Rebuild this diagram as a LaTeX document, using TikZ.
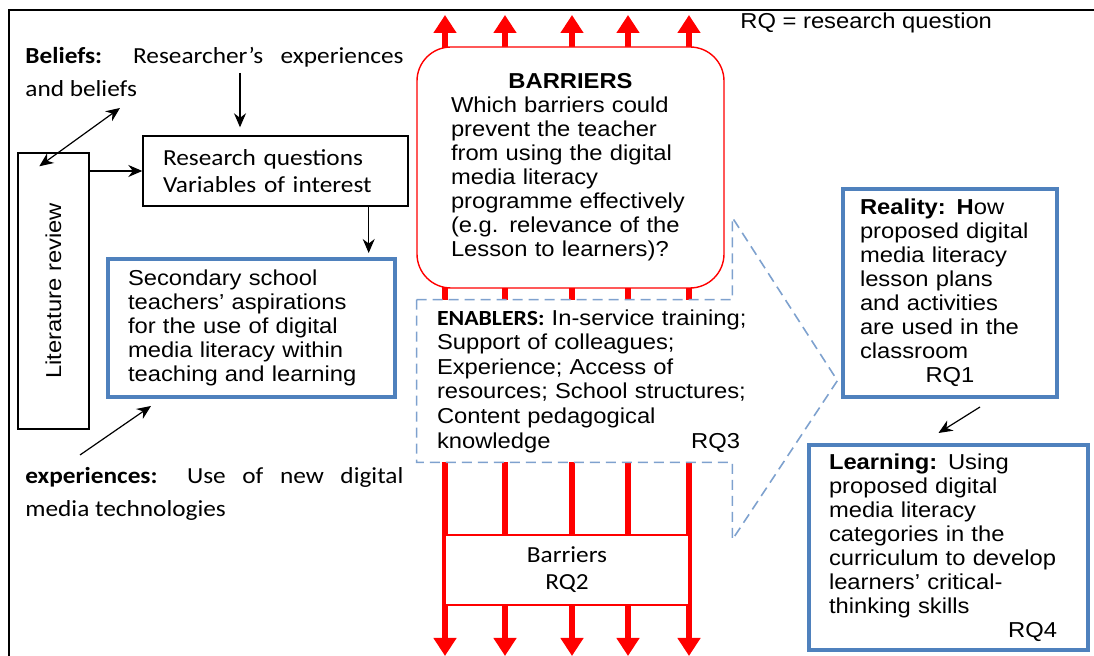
\documentclass[tikz,border=0pt]{standalone}
\usepackage{fontspec}
\setmainfont[FakeStretch=1.1]{Liberation Sans}
\newfontfamily\calibri[FakeStretch=1.1]{Carlito}
\usepackage{graphicx}
\usetikzlibrary{arrows.meta, positioning}
\definecolor{officeblue}{HTML}{4F81BD}
\definecolor{calloutblue}{HTML}{7EA1CE}

\begin{document}
\begin{tikzpicture}[x=0.5pt, y=-0.5pt, font=\fontsize{10.8}{12}\selectfont]
\tikzstyle{plainbox} = [rectangle, draw=black, line width=0.7pt, fill=white]
\tikzstyle{bluebox} = [rectangle, draw=officeblue, line width=2pt, fill=white, align=left]
\tikzstyle{arrow} = [semithick, ->, >={Stealth[length=7pt,width=6pt]}]
\tikzstyle{redarrow} = [red, line width=3pt, {Triangle[length=9pt,width=11pt]}-{Triangle[length=9pt,width=11pt]}]
\tikzstyle{callout} = [calloutblue, line width=0.8pt, dash pattern=on 5pt off 3pt]
\tikzstyle{calib} = [font=\calibri\fontsize{11.5}{13.5}\selectfont]

\useasboundingbox (0,0) rectangle (1094,656);

% frame
\draw[line width=0.7pt] (9,656) -- (9,10) -- (1094,10);

% red barrier arrows first, boxes go on top
\foreach \x [count=\i] in {445,505,572,628,689} {
  \coordinate (top\i) at (\x,15);
  \coordinate (bot\i) at (\x,656);
  \draw[redarrow] (bot\i) -- (top\i);
}

\node (belief) [anchor=west, text width=189pt, align=justify, inner sep=0pt, font=\calibri\fontsize{11.5}{16.5}\selectfont] at (25,71.5) {\textbf{Beliefs:} Researcher’s experiences\linebreak and beliefs};
\node (litrev) [plainbox, minimum width=35.5pt, minimum height=138pt] at (53.5,291) {\rotatebox{90}{Literature review}};
\node (resq) [plainbox, calib, minimum width=132.5pt, minimum height=35pt, text width=112.5pt, inner xsep=10pt, align=left] at (275.5,171) {Research questions\\Variables of interest};
\node (aspire) [bluebox, minimum width=143.5pt, minimum height=69pt, text width=123.5pt, inner xsep=10pt] at (251.5,328) {Secondary school\\teachers’ aspirations\\for the use of digital\\media literacy within\\teaching and learning};
\node (expr) [anchor=west, text width=189pt, align=justify, inner sep=0pt, font=\calibri\fontsize{11.5}{16.5}\selectfont] at (25,493.5) {\textbf{experiences:} Use of new digital\linebreak media technologies};

\node (barr) [rectangle, rounded corners=17pt, draw=red, line width=0.7pt, fill=white, minimum width=153.5pt, minimum height=120.5pt, text width=119.5pt, align=left] at (570.5,167.5) {\makebox[119.5pt]{\textbf{BARRIERS}}\\Which barriers could\\prevent the teacher\\from using the digital\\media literacy\\programme effectively\\(e.g. relevance of the\\Lesson to learners)?};
\node (enab) [fill=white, inner xsep=0pt, text width=160pt, minimum height=81pt, align=left, font=\fontsize{10.8}{12.3}\selectfont] at (597,381) {{\calibri\bfseries ENABLERS:} In-service training;\\Support of colleagues;\\Experience; Access of\\resources; School structures;\\Content pedagogical\\\makebox[151.5pt][l]{knowledge\hfill RQ3}};
\draw[callout] ([xshift=-10pt]enab.north west) -- ([xshift=-12.5pt]enab.north east) -- ++(0,-82) -- ++(105,163) -- ++(-105,159) -- ([xshift=-12.5pt]enab.south east) -- ([xshift=-10pt]enab.south west) -- cycle;
\node (barbox) [rectangle, draw=red, line width=0.6pt, fill=white, calib, minimum width=122pt, minimum height=35pt, align=center] at (567,570) {Barriers\\RQ2};

\node (legend) [anchor=west, inner sep=0pt] at (740,23) {RQ = research question};
\node (real) [bluebox, minimum width=107pt, minimum height=104pt, text width=90pt, inner xsep=8.5pt] at (950,293) {\textbf{Reality:} \textbf{H}ow\\proposed digital\\media literacy\\lesson plans\\and activities\\are used in the\\classroom\\\makebox[90pt]{RQ1}};
\node (learn) [bluebox, minimum width=139.5pt, minimum height=102.5pt, text width=119.5pt, inner xsep=10pt] at (948.5,547.5) {\textbf{Learning:} Using\\proposed digital\\media literacy\\categories in the\\curriculum to develop\\learners’ critical-\\thinking skills\\\makebox[114pt][r]{RQ4}};

% connectors
\coordinate (beliefarrow) at (240,73);
\coordinate (bothways) at (120,108);
\coordinate (exparrow) at (80,455);
\draw[arrow, shorten >=4pt] (beliefarrow) -- (beliefarrow |- resq.north);
\draw[arrow, <->] (bothways) -- ([xshift=11pt,yshift=-7pt]litrev.north west);
\draw[arrow] (resq.west -| litrev.east) -- (resq.west);
\draw[arrow, shorten >=2pt] ([xshift=-20pt]resq.south east) -- ([xshift=-20pt]resq.south east |- aspire.north);
\draw[arrow] (exparrow) -- ([xshift=22.5pt,yshift=-3.5pt]aspire.south west);
\draw[arrow] ([xshift=15pt,yshift=-4pt]real.south) -- ([xshift=-5pt,yshift=5pt]learn.north);
\end{tikzpicture}
\end{document}
